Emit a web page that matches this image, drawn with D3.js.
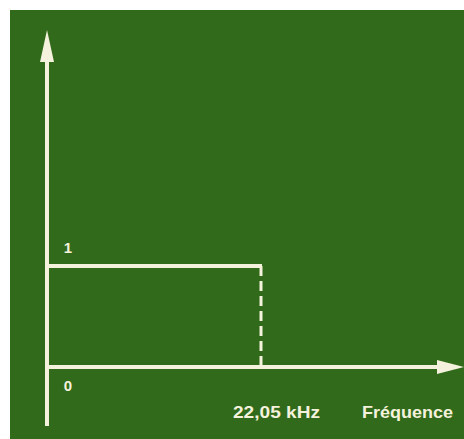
<!DOCTYPE html>
<html>
<head>
<meta charset="utf-8">
<script src="https://cdn.jsdelivr.net/npm/d3@7"></script>
<style>
  body { margin: 0; background: #fff; }
</style>
</head>
<body>
<div id="chart"></div>
<script>
// filter response: gain 1 up to cutoff, then 0
const cutoff = [22.05];
const gainLevels = [0, 1];
const gainLabels = ["0", "1"];
const cutoffLabel = ["22,05 kHz"];
const axisLabel = ["Fréquence"];

async function draw() {

//*************************1. Set up Measurement
  let dimensions = {
    width: 464,
    height: 439,
    panel: { left: 10, top: 10 }
  }

//*************************2. Draw Canvas
  const wrapper = d3.select("#chart")
    .append("svg")
    .attr("width", dimensions.width)
    .attr("height", dimensions.height)

  wrapper.append("rect")
    .attr("x", dimensions.panel.left)
    .attr("y", dimensions.panel.top)
    .attr("width", dimensions.width - dimensions.panel.left)
    .attr("height", dimensions.height - dimensions.panel.top)
    .attr("fill", "#316a1a")

  const bounds = wrapper.append("g")

//**************************3. Scales
  const xScale = d3.scaleLinear()
    .domain([0, cutoff[0]])
    .range([47, 261])

  const yScale = d3.scaleLinear()
    .domain([0, 1])
    .range([367, 266])

  const ink = "#f4f2dc"
  const font = "Liberation Sans, Arial, sans-serif"

//**************************4. Axes (with arrow heads)
  const x0 = xScale(0), y0 = yScale(0)

  // vertical axis
  bounds.append("line")
    .attr("x1", x0).attr("x2", x0)
    .attr("y1", 426).attr("y2", 50)
    .attr("stroke", ink).attr("stroke-width", 4)
  bounds.append("path")
    .attr("d", d3.line()([[x0 - 7, 62], [x0, 30], [x0 + 7, 62]]) + "Z")
    .attr("fill", ink)

  // horizontal axis
  bounds.append("line")
    .attr("x1", x0 - 2).attr("x2", 445)
    .attr("y1", y0).attr("y2", y0)
    .attr("stroke", ink).attr("stroke-width", 4)
  bounds.append("path")
    .attr("d", d3.line()([[437, y0 - 7], [464, y0], [437, y0 + 7]]) + "Z")
    .attr("fill", ink)

//**************************5. Response
  bounds.append("line")
    .attr("x1", x0).attr("x2", xScale(cutoff[0]) + 1)
    .attr("y1", yScale(1)).attr("y2", yScale(1))
    .attr("stroke", ink).attr("stroke-width", 4)

  bounds.append("line")
    .attr("x1", xScale(cutoff[0])).attr("x2", xScale(cutoff[0]))
    .attr("y1", yScale(1)).attr("y2", y0)
    .attr("stroke", ink).attr("stroke-width", 3)
    .attr("stroke-dasharray", "10,5")

//**************************6. Labels
  bounds.selectAll(".gain")
    .data(gainLevels)
    .join("text")
    .attr("x", x0 + 21)
    .attr("y", (d, i) => i === 0 ? yScale(d) + 24 : yScale(d) - 13)
    .attr("text-anchor", "middle")
    .attr("font-family", font)
    .attr("font-size", 15)
    .attr("font-weight", "bold")
    .attr("fill", ink)
    .text((d, i) => gainLabels[i])

  bounds.append("text")
    .attr("x", 233)
    .attr("y", 418)
    .attr("font-family", font)
    .attr("font-size", 17)
    .attr("font-weight", "bold")
    .attr("textLength", 87)
    .attr("lengthAdjust", "spacingAndGlyphs")
    .attr("fill", ink)
    .text(cutoffLabel[0])

  bounds.append("text")
    .attr("x", 362)
    .attr("y", 418)
    .attr("font-family", font)
    .attr("font-size", 17)
    .attr("font-weight", "bold")
    .attr("textLength", 91)
    .attr("lengthAdjust", "spacingAndGlyphs")
    .attr("fill", ink)
    .text(axisLabel[0])
}
draw()
</script>
</body>
</html>
